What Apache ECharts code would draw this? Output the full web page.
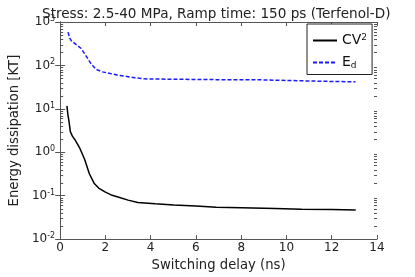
<!DOCTYPE html>
<html>
<head>
<meta charset="utf-8">
<script src="https://cdn.jsdelivr.net/npm/echarts@6/dist/echarts.min.js"></script>
<style>
html,body{margin:0;padding:0;background:#fff;}
#c{width:415px;height:277px;}
</style>
</head>
<body>
<div id="c"></div>
<script>
// ---- data ----
const titleText = 'Stress: 2.5-40 MPa, Ramp time: 150 ps (Terfenol-D)';
const xTicks = [0, 2, 4, 6, 8, 10, 12, 14];
const yTickExps = [-2, -1, 0, 1, 2, 3];

const cvX = [0.30, 0.34, 0.39, 0.45, 0.54, 0.64, 0.86, 1.08, 1.29, 1.51, 1.70, 1.87, 1.98, 2.30, 2.70, 3.00, 3.43, 4.20, 5.02, 6.00, 6.90, 8.00, 9.50, 10.67, 12.00, 13.06];
const cvY = [11.7, 7.5, 5.2, 3.0, 2.35, 2.0, 1.27, 0.69, 0.32, 0.19, 0.15, 0.133, 0.122, 0.102, 0.088, 0.079, 0.070, 0.065, 0.061, 0.058, 0.054, 0.053, 0.051, 0.0484, 0.0478, 0.047];

const edX = [0.35, 0.42, 0.49, 0.71, 0.93, 1.15, 1.36, 1.58, 1.87, 2.16, 2.52, 2.90, 3.30, 3.72, 5.00, 7.00, 8.90, 8.95, 11.70, 11.75, 13.05];
const edY = [585, 430, 372, 302, 245, 164, 110, 82, 71, 66, 60, 56, 52, 49, 48, 47, 46.5, 43.5, 43, 42, 42];

const minorTickVals = [];
for (let e = -2; e <= 2; e++) for (let m = 2; m <= 9; m++) minorTickVals.push(+(m * Math.pow(10, e)).toPrecision(3));

const xMin = 0, xMax = 14;

// ---- chart ----
const chart = echarts.init(document.getElementById('c'), null, {renderer: 'canvas'});
const FONT = 'DejaVu Sans';
const frame = '#555';

function expLabel(v) {
  const e = Math.round(Math.log10(v));
  return '{b|10}{e|' + e + '}';
}
const labelRich = {
  b: {fontFamily: FONT, fontSize: 12, color: '#222'},
  e: {fontFamily: FONT, fontSize: 8, color: '#222', verticalAlign: 'top', padding: [0, 0, 6, 0]}
};

const option = {
  animation: false,
  backgroundColor: '#fff',
  title: {
    text: titleText,
    left: 37,
    top: 2,
    textStyle: {fontFamily: FONT, fontSize: 13.6, fontWeight: 'normal', color: '#222'}
  },
  grid: {left: 54, right: 38, top: 22, bottom: 34, containLabel: false},
  legend: {
    left: 307, top: 24,
    orient: 'vertical',
    backgroundColor: '#fff',
    borderColor: '#222', borderWidth: 1,
    padding: [9, 5, 4, 5],
    itemWidth: 24, itemHeight: 12, itemGap: 8,
    data: ['CV2', 'Ed'],
    itemStyle: {color: 'transparent', borderColor: 'transparent', borderWidth: 0},
    formatter: function (name) {
      return name === 'CV2' ? '{n|CV}{s|2}' : '{n|E}{d|d}';
    },
    textStyle: {
      fontFamily: FONT, fontSize: 13, color: '#111',
      rich: {
        n: {fontFamily: FONT, fontSize: 14, color: '#111'},
        s: {fontFamily: FONT, fontSize: 9, color: '#111', verticalAlign: 'top', padding: [0, 0, 6, 0]},
        d: {fontFamily: FONT, fontSize: 9, color: '#111', verticalAlign: 'bottom', padding: [7, 0, 0, 0]}
      }
    }
  },
  xAxis: [{
    type: 'value', min: xMin, max: xMax, interval: 2,
    name: 'Switching delay (ns)', nameLocation: 'middle', nameGap: 17,
    nameTextStyle: {fontFamily: FONT, fontSize: 13.2, color: '#222'},
    axisLine: {show: true, lineStyle: {color: frame, width: 1}},
    axisTick: {show: true, inside: true, length: 4, lineStyle: {color: frame}},
    axisLabel: {fontFamily: FONT, fontSize: 12, color: '#222', margin: 3},
    splitLine: {show: false}
  }, {
    type: 'value', min: xMin, max: xMax, interval: 2, position: 'top',
    axisLine: {show: true, lineStyle: {color: frame, width: 1}},
    axisTick: {show: true, inside: true, length: 4, lineStyle: {color: frame}},
    axisLabel: {show: false},
    splitLine: {show: false}
  }],
  yAxis: [{
    type: 'log', logBase: 10, min: 0.01, max: 1000,
    name: 'Energy dissipation [KT]', nameLocation: 'middle', nameGap: 24,
    nameTextStyle: {fontFamily: FONT, fontSize: 13.2, color: '#222'},
    axisLine: {show: true, lineStyle: {color: frame, width: 1}},
    axisTick: {show: true, inside: true, length: 5, lineStyle: {color: frame}},
    axisLabel: {formatter: expLabel, rich: labelRich, margin: 5},
    splitLine: {show: false}
  }, {
    type: 'log', logBase: 10, min: 0.01, max: 1000, position: 'right',
    axisLine: {show: true, lineStyle: {color: frame, width: 1}},
    axisTick: {show: true, inside: true, length: 5, lineStyle: {color: frame}},
    axisLabel: {show: false},
    splitLine: {show: false}
  }],
  series: [{
    name: 'CV2', type: 'line',
    data: cvX.map((x, i) => [x, cvY[i]]),
    showSymbol: false, symbol: 'none', smooth: false,
    lineStyle: {color: '#000', width: 1.5},
    itemStyle: {color: '#000'}
  }, {
    name: 'Ed', type: 'line',
    data: edX.map((x, i) => [x, edY[i]]),
    showSymbol: false, symbol: 'none', smooth: false,
    lineStyle: {color: '#1a1aff', width: 1.5, type: [4, 2]},
    itemStyle: {color: '#1a1aff'}
  }, {
    name: 'minorTicks', type: 'custom', silent: true,
    data: minorTickVals.map(v => [xMin, v]),
    encode: {x: 0, y: 1},
    renderItem: function (params, api) {
      const v = api.value(1);
      const pL = api.coord([xMin, v]);
      const pR = api.coord([xMax, v]);
      const st = {stroke: frame, lineWidth: 1};
      return {
        type: 'group',
        children: [
          {type: 'line', shape: {x1: pL[0], y1: Math.round(pL[1]) + 0.5, x2: pL[0] + 3, y2: Math.round(pL[1]) + 0.5}, style: st},
          {type: 'line', shape: {x1: pR[0], y1: Math.round(pR[1]) + 0.5, x2: pR[0] - 3, y2: Math.round(pR[1]) + 0.5}, style: st}
        ]
      };
    },
    z: 1
  }]
};
chart.setOption(option);
</script>
</body>
</html>
